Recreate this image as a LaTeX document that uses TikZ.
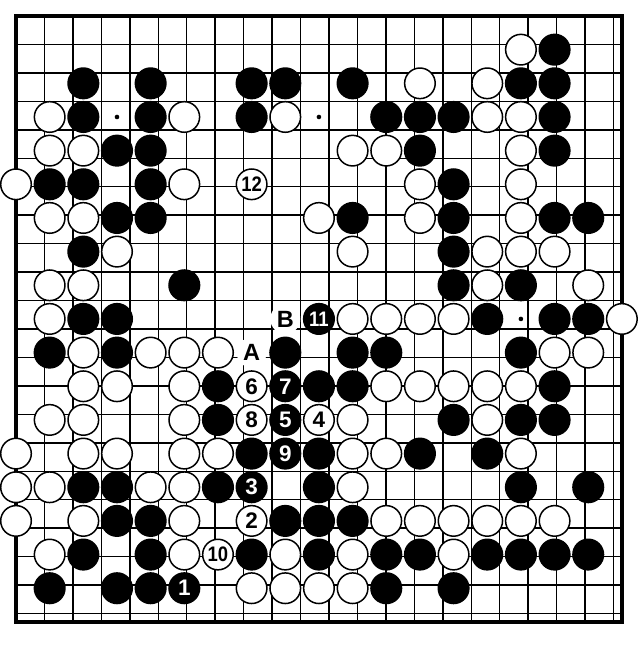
\documentclass[tikz,border=0pt]{standalone}
\usepackage{fontspec}
\setmainfont{Liberation Sans}
\begin{document}
\begin{tikzpicture}[x=33.66pt,y=-33.66pt,
  gridline/.style={line width=1.5pt,black},
  boardedge/.style={line width=3.4pt,black,line cap=rect},
  starpt/.style={circle,fill=black,inner sep=0pt,minimum size=4.6pt},
  bs/.style={circle,draw=black,fill=black,line width=1.5pt,minimum size=30.6pt,inner sep=0pt},
  ws/.style={circle,draw=black,fill=white,line width=1.5pt,minimum size=30.6pt,inner sep=0pt},
  numa/.style={font=\fontsize{22.5}{22.5}\selectfont\bfseries},
  numb/.style={font=\fontsize{21}{21}\selectfont\bfseries},
  bnum/.style={text=white},
  lab/.style={circle,fill=white,minimum size=30pt,inner sep=0pt,font=\fontsize{23.5}{23.5}\selectfont\bfseries}]
\useasboundingbox (-0.4753,-0.4753) rectangle (18.538,18.865);
% grid
\draw[gridline] (0,0) grid (18,18);
\draw[boardedge] (0,0) rectangle (18,18);
% star points
\foreach \c/\r in {3/3,9/3,15/3,3/9,9/9,15/9,3/15,9/15,15/15}
  \node[starpt] (st-\c-\r) at (\c,\r) {};
% black stones
\foreach \c/\r in {16/1,
  2/2,4/2,7/2,8/2,10/2,15/2,16/2,
  2/3,4/3,7/3,11/3,12/3,13/3,16/3,
  3/4,4/4,12/4,16/4,
  1/5,2/5,4/5,13/5,
  3/6,4/6,10/6,13/6,16/6,17/6,
  2/7,13/7,
  5/8,13/8,15/8,
  2/9,3/9,14/9,16/9,17/9,
  1/10,3/10,8/10,10/10,11/10,15/10,
  6/11,9/11,10/11,16/11,
  6/12,13/12,15/12,16/12,
  7/13,9/13,12/13,14/13,
  2/14,3/14,6/14,9/14,15/14,17/14,
  3/15,4/15,8/15,9/15,10/15,
  2/16,4/16,7/16,9/16,11/16,12/16,14/16,15/16,16/16,17/16,
  1/17,3/17,4/17,11/17,13/17}
  \node[bs] (b-\c-\r) at (\c,\r) {};
% white stones
\foreach \c/\r in {15/1,
  12/2,14/2,
  1/3,5/3,8/3,14/3,15/3,
  1/4,2/4,10/4,11/4,15/4,
  0/5,5/5,12/5,15/5,
  1/6,2/6,9/6,12/6,15/6,
  3/7,10/7,14/7,15/7,16/7,
  1/8,2/8,14/8,17/8,
  1/9,10/9,11/9,12/9,13/9,18/9,
  2/10,4/10,5/10,6/10,16/10,17/10,
  2/11,3/11,5/11,11/11,12/11,13/11,14/11,15/11,
  1/12,2/12,5/12,10/12,14/12,
  0/13,2/13,3/13,5/13,6/13,10/13,11/13,15/13,
  0/14,1/14,4/14,5/14,10/14,
  0/15,2/15,5/15,11/15,12/15,13/15,14/15,15/15,16/15,
  1/16,5/16,8/16,10/16,13/16,
  7/17,8/17,9/17,10/17}
  \node[ws] (w-\c-\r) at (\c,\r) {};
% numbered moves
\node[bs,numa,bnum] (m1) at (5,17) {1};
\node[ws,numa] (m2) at (7,15) {2};
\node[bs,numa,bnum] (m3) at (7,14) {3};
\node[ws,numa] (m4) at (9,12) {4};
\node[bs,numa,bnum] (m5) at (8,12) {5};
\node[ws,numa] (m6) at (7,11) {6};
\node[bs,numa,bnum] (m7) at (8,11) {7};
\node[ws,numa] (m8) at (7,12) {8};
\node[bs,numa,bnum] (m9) at (8,13) {9};
\node[ws,numb] (m10) at (6,16) {\scalebox{0.88}[1]{10}};
\node[bs,numb,bnum] (m11) at (9,9) {\scalebox{0.88}[1]{11}};
\node[ws,numb] (m12) at (7,5) {\scalebox{0.88}[1]{12}};
% letters
\node[lab] (la) at (7,10) {A};
\node[lab] (lb) at (8,9) {B};
\end{tikzpicture}
\end{document}
